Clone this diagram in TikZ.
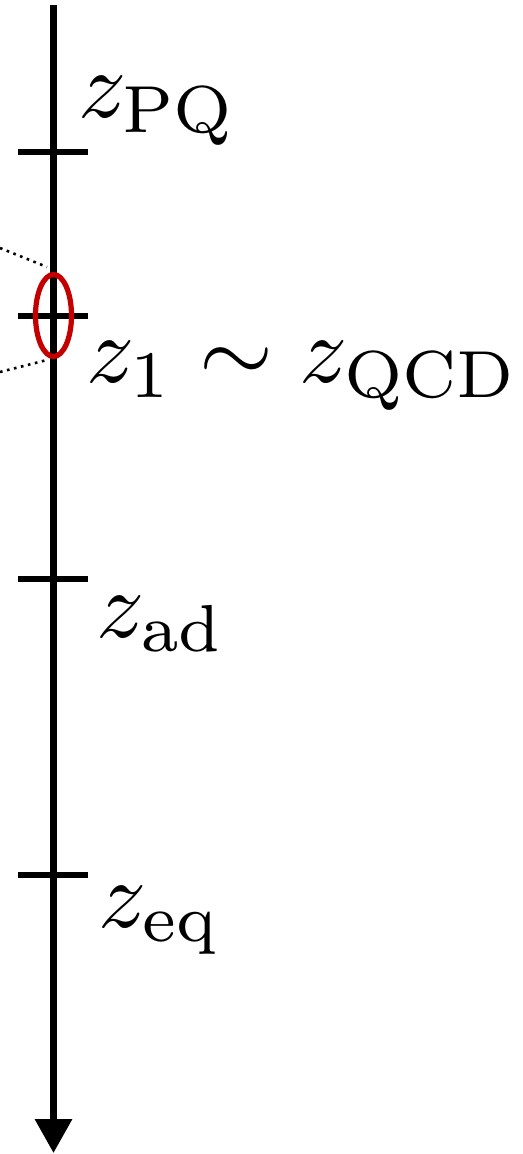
\documentclass[tikz,border=0pt]{standalone}
\usetikzlibrary{arrows.meta,shapes.geometric}
\definecolor{ellred}{RGB}{196,0,0}
\newcommand{\biglab}[1]{\scalebox{4.75}{#1}}
\begin{document}
\begin{tikzpicture}[x=0.5pt,y=-0.5pt,
  axisline/.style={line width=3.3pt,-{Triangle[length=17pt,width=18pt]}},
  tickline/.style={line width=2.6pt},
  lab/.style={anchor=base west,inner sep=0pt},
  dotline/.style={line width=1.3pt,dash pattern=on 1.3pt off 2.3pt}]
\useasboundingbox (0,0) rectangle (523,1154);
% axis
\coordinate (top) at (53.5,5);
\coordinate (bot) at (53.5,1153);
% ticks
\coordinate (t1l) at (18,152);  \coordinate (t1r) at (88,152);
\coordinate (t2l) at (18,316);  \coordinate (t2r) at (88,316);
\coordinate (t3l) at (18,579);  \coordinate (t3r) at (88,579);
\coordinate (t4l) at (18,875);  \coordinate (t4r) at (88,875);
\draw[tickline] (t1l) -- (t1r);
\draw[tickline] (t2l) -- (t2r);
\draw[tickline] (t3l) -- (t3r);
\draw[tickline] (t4l) -- (t4r);
\draw[axisline] (top) -- (bot);
% red ellipse
\node[draw=ellred,line width=2.6pt,ellipse,minimum width=18pt,minimum height=41pt,inner sep=0pt] (ell) at (53.5,315.5) {};
% dotted connectors
\coordinate (d1) at (0,248);
\coordinate (d2) at (0,372);
\coordinate (e1) at (47,267);
\coordinate (e2) at (47,360);
\draw[dotline] (d1) -- (e1);
\draw[dotline] (d2) -- (e2);
% labels
\node[lab] (lpq) at (78,118) {\biglab{$z_{\mathrm{PQ}}$}};
\node[lab] (lqcd) at (86,383) {\biglab{$z_1 \sim z_{\mathrm{QCD}}$}};
\node[lab] (lad) at (96,637) {\biglab{$z_{\mathrm{ad}}$}};
\node[lab] (leq) at (98,927) {\biglab{$z_{\mathrm{eq}}$}};
\end{tikzpicture}
\end{document}
